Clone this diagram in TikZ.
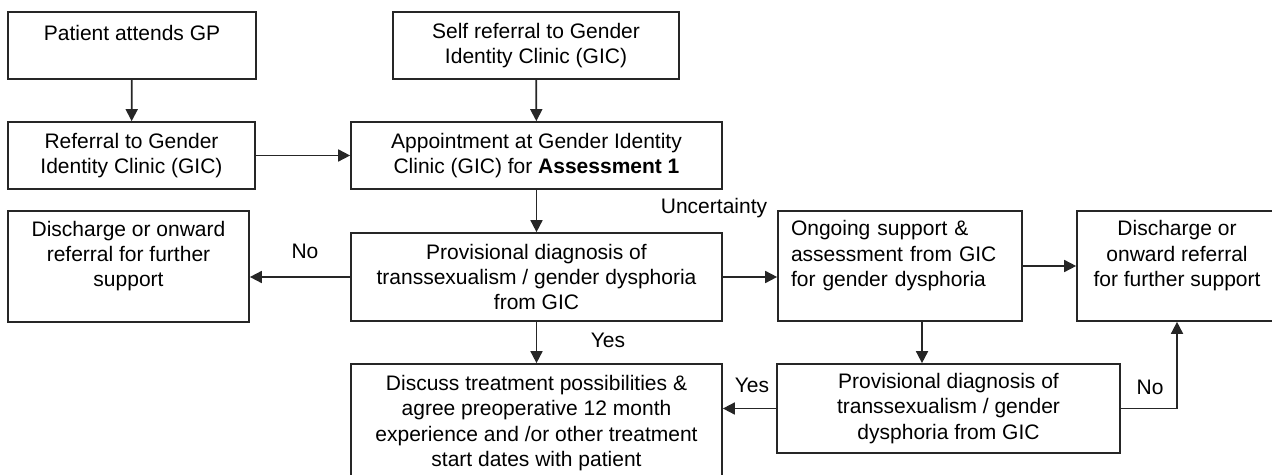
\documentclass[tikz,border=0pt]{standalone}
\usepackage{fontspec}
\setmainfont{Liberation Sans}
\usepackage{tikz}
\usetikzlibrary{positioning,arrows.meta,calc}

\begin{document}
\begin{tikzpicture}[
  x=0.5pt,y=-0.5pt,
  every node/.style={font=\fontsize{10.5}{12.6}\selectfont},
  block/.style={draw=black!85,line width=0.85pt,align=center,inner sep=2pt},
  lbl/.style={inner sep=1pt},
  arr/.style={-{Triangle[length=6pt,width=6pt]},line width=0.85pt,draw=black!85}
]
  \useasboundingbox (0,0) rectangle (1272,475);
  \clip (0,0) rectangle (1272,475);

  \node[block,minimum width=124pt,minimum height=33.5pt] (gp)   at (132,45.5)  {Patient attends GP\\~};
  \node[block,minimum width=123.5pt,minimum height=33.5pt] (ref) at (131.5,155.5) {Referral to Gender\\Identity Clinic (GIC)};
  \node[block,minimum width=143pt,minimum height=33.5pt] (self) at (536,45.5)  {Self referral to Gender\\Identity Clinic (GIC)};
  \node[block,minimum width=185.5pt,minimum height=33.5pt] (appt) at (536.5,155.5) {Appointment at Gender Identity\\Clinic (GIC) for \textbf{Assessment 1}};
  \node[block,minimum width=120.5pt,minimum height=55.5pt] (dischl) at (128.5,266.5) {Discharge or onward\\referral for further\\support\\~};
  \node[block,minimum width=185.5pt,minimum height=44pt] (prov) at (536.5,277) {Provisional diagnosis of\\transsexualism / gender dysphoria\\from GIC};
  \node[block,minimum width=122pt,minimum height=55pt,align=left,text width=109pt] (ongo) at (900,266) {Ongoing support \&\\assessment from GIC\\for gender dysphoria\\~};
  \node[block,minimum width=100pt,minimum height=55pt] (dischr) at (1177,266) {Discharge or\\onward referral\\for further support\\~};
  \node[block,minimum width=171.5pt,minimum height=44.5pt] (prov2) at (948.5,408.5) {Provisional diagnosis of\\transsexualism / gender\\dysphoria from GIC};
  \node[block,minimum width=185.5pt,minimum height=59pt] (disc) at (536.5,423) {Discuss treatment possibilities \&\\agree preoperative 12 month\\experience and /or other treatment\\start dates with patient};

  \draw[arr] (gp) -- (ref);
  \draw[arr] (self) -- (appt);
  \draw[arr] (ref) -- (appt);
  \draw[arr] (appt) -- (prov);
  \draw[arr] (prov.west) -- (prov.west -| dischl.east);
  \draw[arr] (prov.east) -- (prov.east -| ongo.west);
  \draw[arr] (ongo.east |- dischr) -- (dischr.west);
  \draw[arr] ([xshift=11pt]ongo.south) -- ([xshift=11pt]ongo.south |- prov2.north);
  \draw[arr] (prov) -- (disc);
  \draw[arr] (prov2.west) -- (prov2.west -| disc.east);
  \draw[arr] (prov2.east) -| (dischr.south);

  % decision labels
  \node[lbl] (unc)  at (714,208) {Uncertainty};
  \node[lbl] (nol)  at (305,251) {No};
  \node[lbl] (yesd) at (608,340) {Yes};
  \node[lbl] (yesr) at (752,385) {Yes};
  \node[lbl] (nor)  at (1150,387) {No};
\end{tikzpicture}
\end{document}
